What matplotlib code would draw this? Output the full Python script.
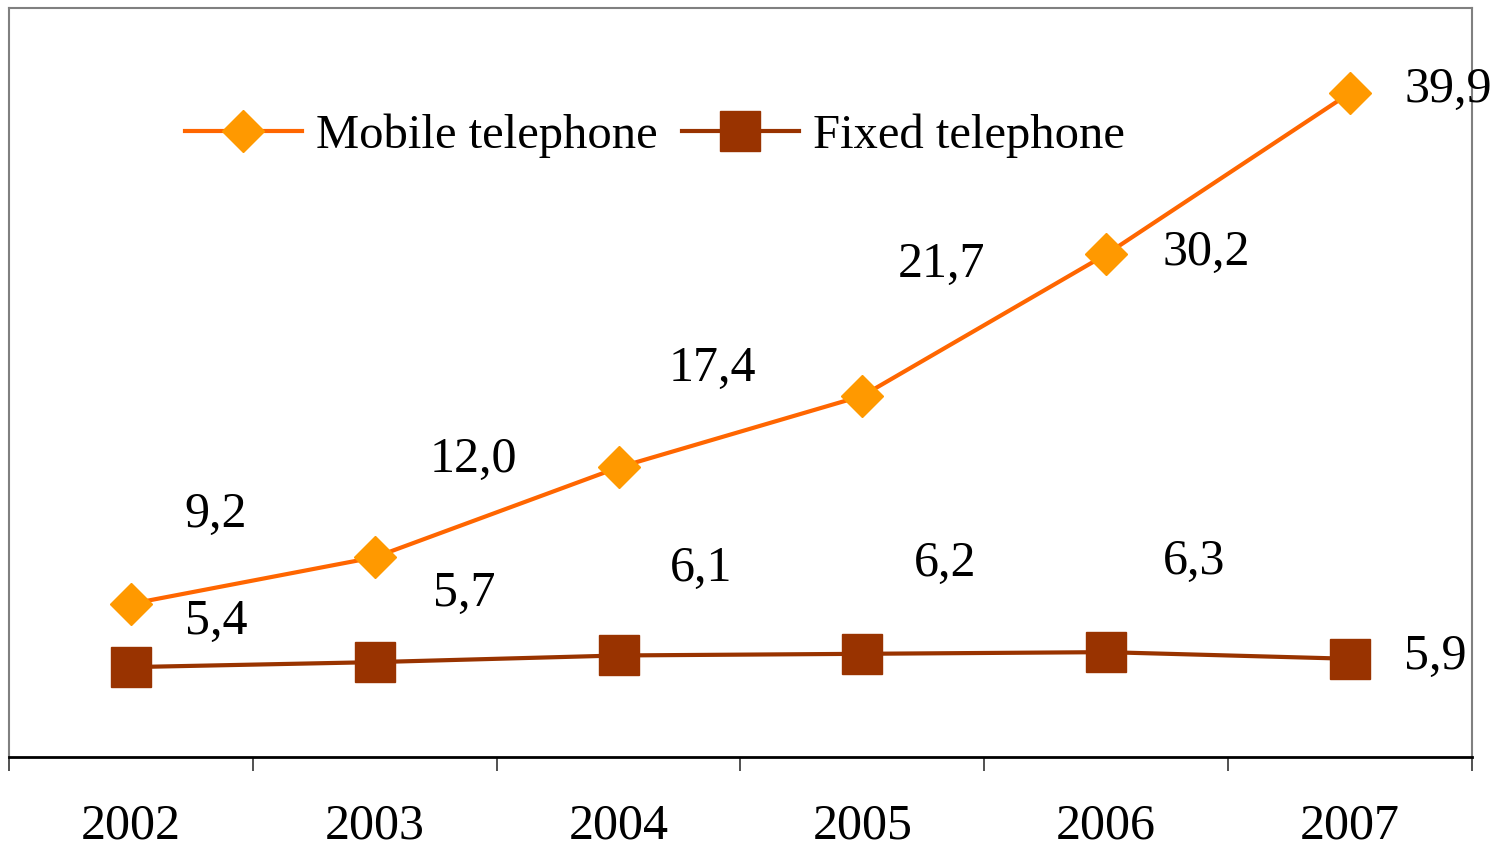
import matplotlib.pyplot as plt

years = ['2002', '2003', '2004', '2005', '2006', '2007']
mobile = [9.2, 12.0, 17.4, 21.7, 30.2, 39.9]
fixed = [5.4, 5.7, 6.1, 6.2, 6.3, 5.9]

# label offsets in pixels (dx, dy) from each point, as in the original
mobile_off = [(85, 89), (99, 98), (94, 99), (79, 131), (100, 2), (98, 3)]
fixed_off = [(85, 45), (89, 68), (83, 87), (83, 90), (88, 90), (85, 2)]

plt.rcParams['font.family'] = ['Liberation Serif', 'DejaVu Serif']
fs = 36

fig = plt.figure(figsize=(15.03, 8.5), dpi=100)
ax = fig.add_axes([9 / 1503, 93 / 850, 1463 / 1503, 749 / 850])

x = list(range(len(years)))
ax.plot(x, mobile, color='#FF6600', lw=3, marker='D', ms=21,
        mfc='#FF9900', mec='#FF9900', label='Mobile telephone', zorder=3)
ax.plot(x, fixed, color='#993300', lw=3, marker='s', ms=29,
        mfc='#993300', mec='#993300', label='Fixed telephone', zorder=3)

for xi, v, (dx, dy) in zip(x, mobile, mobile_off):
    ax.annotate(f'{v:.1f}'.replace('.', ','), (xi, v), xytext=(dx, dy),
                textcoords='offset pixels', ha='center', va='center',
                fontsize=fs, annotation_clip=False)
for xi, v, (dx, dy) in zip(x, fixed, fixed_off):
    ax.annotate(f'{v:.1f}'.replace('.', ','), (xi, v), xytext=(dx, dy),
                textcoords='offset pixels', ha='center', va='center',
                fontsize=fs, annotation_clip=False)

ax.set_xlim(-0.5, 5.5)
ax.set_ylim(0, 45)
ax.set_yticks([])
ax.set_xticks(x)
ax.set_xticklabels(years, fontsize=fs)
ax.set_xticks([i - 0.5 for i in range(len(years) + 1)], minor=True)
ax.tick_params(axis='x', which='major', length=0, pad=33)
ax.tick_params(axis='x', which='minor', length=10, width=1.2, color='#333333', direction='out')

for s in ['left', 'top', 'right']:
    ax.spines[s].set_color('#808080')
    ax.spines[s].set_linewidth(1.5)
ax.spines['bottom'].set_color('black')
ax.spines['bottom'].set_linewidth(2)

ax.legend(loc='center', bbox_to_anchor=(0.4416, 0.830), ncol=2, frameon=False,
          fontsize=35, handlelength=2.4, handletextpad=0.3, columnspacing=0.5)

fig.savefig('out.png', dpi=100)
